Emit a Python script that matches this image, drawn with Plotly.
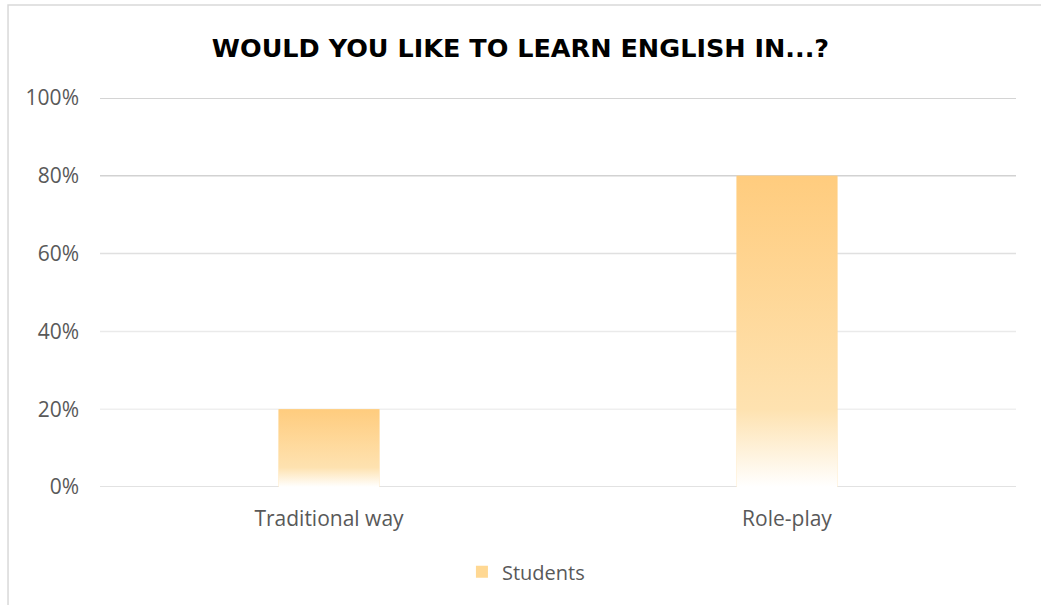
import plotly.graph_objects as go

categories = ["Traditional way", "Role-play"]
students = [0.20, 0.80]
series_name = "Students"
y_ticks = [0, 0.2, 0.4, 0.6, 0.8, 1.0]
y_tick_labels = ["0%", "20%", "40%", "60%", "80%", "100%"]
title_text = "WOULD YOU LIKE TO LEARN ENGLISH IN...?"

bar_width = 0.22
grid_colors = ["#d9d9d9", "#efefef", "#eaeaea", "#e0e0e0", "#d2d2d2", "#c6c6c6"]
gradient = [[0.0, "#ffffff"], [0.25, "#fee2b0"], [1.0, "#ffcc7e"]]
FONT = "Open Sans, Lato, sans-serif"
TITLE_FONT = "DejaVu Sans, Open Sans, sans-serif"

x_idx = list(range(len(categories)))

fig = go.Figure()

# base bars (carry the data, hover and legend swatch)
fig.add_trace(go.Bar(
    x=x_idx, y=students, width=bar_width, name=series_name,
    marker=dict(color="#ffd893", line=dict(width=0)),
    customdata=categories,
    hovertemplate="%{customdata}: %{y:.0%}<extra></extra>",
))

# gradient overlays built from the same data
for i, v in zip(x_idx, students):
    xs = [i - bar_width / 2, i + bar_width / 2, i + bar_width / 2, i - bar_width / 2, i - bar_width / 2]
    ys = [0, 0, v, v, 0]
    fig.add_trace(go.Scatter(
        x=xs, y=ys, mode="none", fill="toself",
        fillgradient=dict(type="vertical", colorscale=gradient, start=0, stop=v),
        fillcolor="#ffd68f", showlegend=False, hoverinfo="skip",
    ))

# gridlines (fade like the reference)
for t, c in zip(y_ticks, grid_colors):
    fig.add_shape(type="line", xref="paper", yref="y", x0=0, x1=1, y0=t, y1=t,
                  line=dict(color=c, width=1.5), layer="below")

# chart border
fig.add_shape(type="rect", xref="paper", yref="paper", x0=-0.1004, x1=1.2, y0=-0.5, y1=1.239,
              line=dict(color="#d9d9d9", width=1.5), fillcolor="rgba(0,0,0,0)", layer="below")

fig.update_layout(
    width=1041, height=605,
    margin=dict(l=100, r=25, t=98, b=118, autoexpand=False),
    paper_bgcolor="white", plot_bgcolor="white",
    font=dict(family=FONT, color="#595959", size=21),
    title=dict(text="<b>" + title_text + "</b>", x=0.5, xanchor="center", y=0.921, yanchor="middle",
               font=dict(size=25.5, color="#000000", family=TITLE_FONT)),
    xaxis=dict(range=[-0.5, 1.5], tickvals=x_idx, ticktext=categories, automargin=False,
               showgrid=False, zeroline=False, showline=False, ticks="", fixedrange=True),
    yaxis=dict(range=[0, 1.0], tickvals=y_ticks, ticktext=y_tick_labels, showgrid=False, automargin=False,
               zeroline=False, showline=False, ticks="", ticklen=0, fixedrange=True),
    legend=dict(orientation="h", x=0.465, xanchor="center", y=-0.218, yanchor="middle",
                font=dict(size=20, color="#595959")),
    showlegend=True,
)
fig.update_yaxes(ticklabelstandoff=20)
fig.update_xaxes(ticklabelstandoff=17)

fig.write_html("out.html", config={"displayModeBar": False},
               post_script="document.body.style.margin='0';")
